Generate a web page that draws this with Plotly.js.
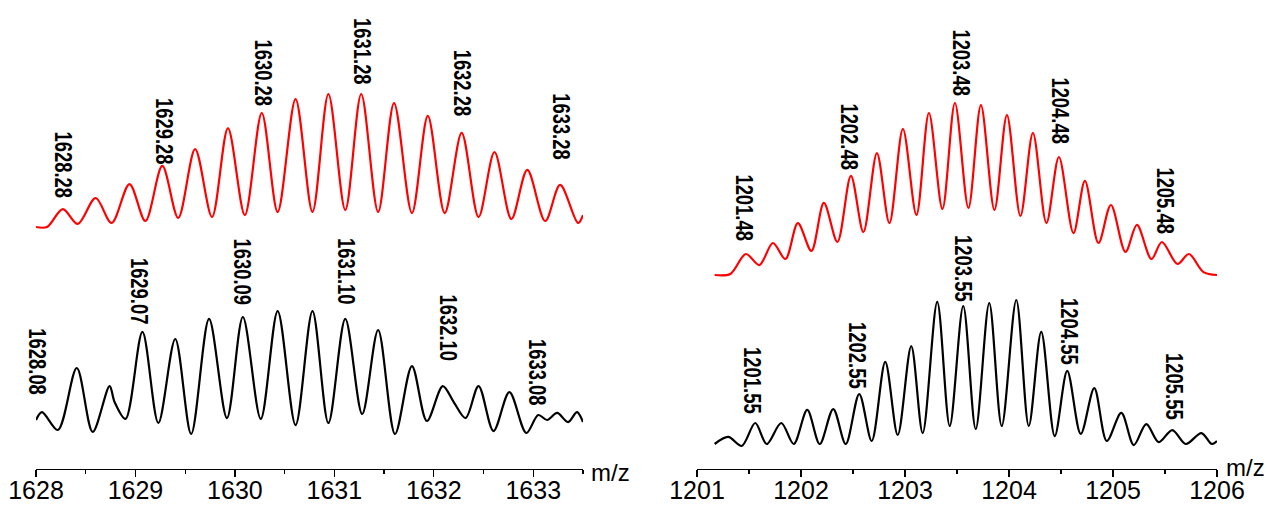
<!DOCTYPE html>
<html>
<head>
<meta charset="utf-8">
<script src="https://cdn.plot.ly/plotly-3.0.1.min.js"></script>
<style>html,body{margin:0;padding:0;background:#fff;}#chart{width:1267px;height:507px;}</style>
</head>
<body>
<div id="chart"></div>
<script>
// ---------------- DATA ----------------
// Left panel, simulated (red): m/z and relative intensity (%)
const leftSimMz = [1628.00,1628.11,1628.27,1628.42,1628.60,1628.76,1628.94,1629.10,1629.27,1629.43,1629.60,1629.77,1629.93,1630.10,1630.27,1630.43,1630.61,1630.78,1630.94,1631.11,1631.27,1631.44,1631.60,1631.78,1631.94,1632.11,1632.28,1632.45,1632.61,1632.78,1632.94,1633.12,1633.27,1633.45,1633.50];
const leftSimI  = [0,0,13.5,2.3,21.8,3.0,32.3,4.5,45.9,6.8,58.6,7.5,74.4,9.0,85.7,11.3,96.2,11.3,100,12.8,100,11.3,93.2,10.5,83.5,10.5,70.7,7.5,56.4,6.0,42.9,4.5,31.6,3.0,9.0];

// Left panel, experimental (black)
const leftExpMz = [1628.00,1628.06,1628.22,1628.41,1628.57,1628.74,1628.79,1628.90,1629.07,1629.23,1629.40,1629.56,1629.74,1629.92,1630.08,1630.26,1630.43,1630.61,1630.78,1630.94,1631.11,1631.28,1631.44,1631.61,1631.78,1631.93,1632.09,1632.20,1632.32,1632.45,1632.60,1632.76,1632.93,1633.05,1633.14,1633.24,1633.35,1633.44,1633.50];
const leftExpI  = [15.4,21.5,7.7,55.4,6.2,41.5,29.2,16.2,83.1,13.1,77.7,4.6,93.1,16.9,94.6,16.2,99.2,11.5,99.2,13.1,93.1,20.0,84.6,4.6,56.9,14.6,41.5,29.2,16.9,41.5,6.9,36.9,5.4,19.2,15.4,20.8,13.8,21.5,13.8];

// Right panel, simulated (red)
const rightSimMz = [1201.17,1201.32,1201.47,1201.60,1201.73,1201.85,1201.97,1202.10,1202.22,1202.35,1202.48,1202.60,1202.73,1202.85,1202.98,1203.11,1203.23,1203.36,1203.48,1203.61,1203.73,1203.86,1203.98,1204.11,1204.23,1204.36,1204.48,1204.62,1204.73,1204.86,1204.98,1205.12,1205.23,1205.37,1205.47,1205.62,1205.73,1205.87,1206.00];
const rightSimI  = [0,0.6,12.2,5.8,18.6,9.3,30.2,14.0,41.9,19.2,57.6,25.0,70.9,30.2,84.9,34.9,94.2,38.4,100,39.0,98.8,37.8,93.0,34.3,82.6,30.2,68.6,24.4,54.7,18.6,40.7,13.4,29.1,9.3,19.2,6.4,12.2,1.7,0];

// Right panel, experimental (black)
const rightExpMz = [1201.17,1201.30,1201.43,1201.56,1201.67,1201.81,1201.93,1202.06,1202.18,1202.31,1202.43,1202.56,1202.68,1202.81,1202.93,1203.06,1203.17,1203.31,1203.43,1203.56,1203.68,1203.81,1203.93,1204.07,1204.19,1204.31,1204.44,1204.56,1204.69,1204.82,1204.94,1205.08,1205.20,1205.32,1205.44,1205.57,1205.70,1205.85,1205.95,1206.00];
const rightExpI  = [4.0,8.7,2.7,18.0,4.0,18.0,4.0,26.7,4.0,27.3,4.0,37.3,6.0,58.7,10.0,69.3,11.3,98.7,16.0,96.0,14.0,98.0,16.0,100,16.0,78.7,9.3,52.7,10.7,41.3,6.0,24.7,3.3,17.3,5.3,13.3,4.0,11.3,4.0,6.0];

// Peak labels (text = m/z value)
const leftSimLabels   = ["1628.28","1629.28","1630.28","1631.28","1632.28","1633.28"];
const leftExpLabels   = ["1628.08","1629.07","1630.09","1631.10","1632.10","1633.08"];
const rightSimLabels  = ["1201.48","1202.48","1203.48","1204.48","1205.48"];
const rightExpLabels  = ["1201.55","1202.55","1203.55","1204.55","1205.55"];

// Axis ranges and title
const leftRange  = [1628, 1633.5];
const rightRange = [1201, 1206];
const axisTitle  = "m/z";

// ---------------- LAYOUT (positions in pixels) ----------------
const W = 1267, H = 507, AXIS_Y = 469;
const paperY = py => (AXIS_Y - py) / AXIS_Y;
const paperX = px => px / W;
// y-domain so that 0% sits at py0 and 100% at py100, with range [lo, hi]
function yAxisFor(py0, py100, lo, hi, anchor) {
  const ppu = (py0 - py100) / 100;
  return {
    domain: [paperY(py0 - lo * ppu), paperY(py100 - (hi - 100) * ppu)],
    range: [lo, hi], visible: false, fixedrange: true, anchor: anchor,
    showgrid: false, zeroline: false
  };
}

// label placement: vertical centre pixel and horizontal shift
const leftSimMid  = [165, 131, 73, 51, 83, 126];
const leftSimDx   = [-1, 1, 0, 0, 0, 0];
const leftExpMid  = [362, 291, 272, 271, 328, 372];
const leftExpDx   = [-7, -3, -2, 2, 4, -4];
const rightSimMid = [208, 137, 63, 111, 201];
const rightSimDx  = [-3, -2, 6, 1, 2];
const rightExpMid = [380, 355, 268, 331, 386];
const rightExpDx  = [-2, -1, 1, 3, 4];

const labelFont = {family: "'Liberation Sans', Arial, sans-serif", size: 23, color: '#000', weight: 'bold'};
const tickFont = {family: "'Liberation Sans', Arial, sans-serif", size: 25, color: '#000'};
const titleFont = {family: "'Liberation Sans', Arial, sans-serif", size: 24, color: '#000'};

function makeLabels(labels, mids, dx, xref) {
  return labels.map((t, i) => ({
    text: t, x: parseFloat(t), xref: xref, y: paperY(mids[i]), yref: 'paper',
    xanchor: 'center', yanchor: 'middle', textangle: 90, showarrow: false,
    xshift: dx[i], font: labelFont, borderpad: 0, borderwidth: 0
  }));
}

const lineStyle = (c) => ({color: c, width: 2.2, shape: 'spline', smoothing: 0.9});

const traces = [
  {x: leftSimMz, y: leftSimI, xaxis: 'x', yaxis: 'y2', mode: 'lines', line: lineStyle('#ff0000'), hoverinfo: 'skip'},
  {x: leftExpMz, y: leftExpI, xaxis: 'x', yaxis: 'y', mode: 'lines', line: lineStyle('#000000'), hoverinfo: 'skip'},
  {x: rightSimMz, y: rightSimI, xaxis: 'x2', yaxis: 'y4', mode: 'lines', line: lineStyle('#ff0000'), hoverinfo: 'skip'},
  {x: rightExpMz, y: rightExpI, xaxis: 'x2', yaxis: 'y3', mode: 'lines', line: lineStyle('#000000'), hoverinfo: 'skip'}
];

function xAxis(domainPx, range) {
  return {
    domain: [paperX(domainPx[0]), paperX(domainPx[1])], range: range,
    anchor: 'free', position: 0, fixedrange: true,
    showline: true, linecolor: '#000', linewidth: 1.3,
    ticks: 'outside', ticklen: 7, tickwidth: 1.3, tickcolor: '#000',
    dtick: 1, tick0: range[0], tickfont: tickFont, ticklabelstandoff: -8,
    minor: {dtick: 0.5, ticks: 'outside', ticklen: 4, tickwidth: 1.3, tickcolor: '#000', showgrid: false},
    showgrid: false, zeroline: false
  };
}

const layout = {
  width: W, height: H, margin: {l: 0, r: 0, t: 0, b: H - AXIS_Y},
  paper_bgcolor: '#fff', plot_bgcolor: 'rgba(0,0,0,0)', showlegend: false,
  xaxis: xAxis([36, 583], leftRange),
  xaxis2: xAxis([697, 1217], rightRange),
  yaxis: yAxisFor(440, 310, -20, 120, 'x'),
  yaxis2: yAxisFor(227, 94, -20, 120, 'x'),
  yaxis3: yAxisFor(450, 300, -10, 120, 'x2'),
  yaxis4: yAxisFor(275, 103, -20, 120, 'x2'),
  annotations: [].concat(
    makeLabels(leftSimLabels, leftSimMid, leftSimDx, 'x'),
    makeLabels(leftExpLabels, leftExpMid, leftExpDx, 'x'),
    makeLabels(rightSimLabels, rightSimMid, rightSimDx, 'x2'),
    makeLabels(rightExpLabels, rightExpMid, rightExpDx, 'x2'),
    [
      {text: axisTitle, x: paperX(591), y: paperY(472), xref: 'paper', yref: 'paper', xanchor: 'left', yanchor: 'middle', showarrow: false, font: titleFont, borderpad: 0, borderwidth: 0},
      {text: axisTitle, x: paperX(1226), y: paperY(467), xref: 'paper', yref: 'paper', xanchor: 'left', yanchor: 'middle', showarrow: false, font: titleFont, borderpad: 0, borderwidth: 0}
    ]
  )
};

Plotly.newPlot('chart', traces, layout, {displayModeBar: false, staticPlot: true}).then(() => {
  // condense the bold peak labels (the reference uses a narrow bold face)
  document.querySelectorAll('#chart text.annotation-text').forEach(t => {
    if (t.textContent === axisTitle) return;
    const L = t.getComputedTextLength();
    t.setAttribute('textLength', (L * 0.8).toFixed(1));
    t.setAttribute('lengthAdjust', 'spacingAndGlyphs');
  });
});
</script>
</body>
</html>
